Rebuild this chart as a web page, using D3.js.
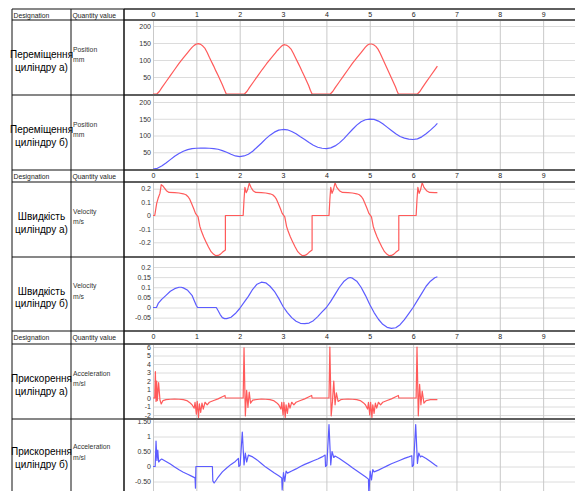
<!DOCTYPE html>
<html>
<head>
<meta charset="utf-8">
<script src="https://cdn.jsdelivr.net/npm/d3@7"></script>
<style>
  body { margin: 0; background: #fff; }
  svg { display: block; }
</style>
</head>
<body>
<div class="graph"></div>
<script>
var width = 575;
var height = 491;

// ---- data ----
var timeTicks = [0, 1, 2, 3, 4, 5, 6, 7, 8, 9];

var posTicks = [200, 150, 100, 50];
var posLabels = ["200", "150", "100", "50"];
var velATicks = [0.2, 0.1, 0, -0.1, -0.2];
var velALabels = ["0.2", "0.1", "0", "-0.1", "-0.2"];
var velBTicks = [0.2, 0.15, 0.1, 0.05, 0, -0.05];
var velBLabels = ["0.2", "0.15", "0.1", "0.05", "0", "-0.05"];
var accATicks = [6, 5, 4, 3, 2, 1, 0, -1, -2];
var accALabels = ["6", "5", "4", "3", "2", "1", "0", "-1", "-2"];
var accBTicks = [1.5, 1, 0.5, 0, -0.5];
var accBLabels = ["1.50", "1", "0.50", "0", "-0.50"];

var designations = [
  ["Переміщення", "циліндру а)"],
  ["Переміщення", "циліндру б)"],
  ["Швидкість", "циліндру а)"],
  ["Швидкість", "циліндру б)"],
  ["Прискорення", "циліндру а)"],
  ["Прискорення", "циліндру б)"]
];
var quantities = [
  ["Position", "mm"], ["Position", "mm"],
  ["Velocity", "m/s"], ["Velocity", "m/s"],
  ["Acceleration", "m/sl"], ["Acceleration", "m/sl"]
];

// [time s, value]
var positionA = [
  [0,0],[0.09,0],[0.15,8],[0.2,18],[0.3,36],[0.4,54],[0.5,72],[0.6,90],[0.7,106],[0.8,122],[0.85,130],[0.9,137],[0.95,143],[1.0,147],[1.05,148],[1.1,146],[1.15,141],[1.2,134],[1.25,122],[1.3,108],[1.35,95],[1.4,82],[1.45,68],[1.5,55],[1.55,41],[1.6,27],[1.65,12],[1.69,0],
  [2.11,0],[2.17,8],[2.22,18],[2.32,36],[2.42,54],[2.52,72],[2.62,89],[2.72,105],[2.82,120],[2.87,128],[2.92,135],[2.97,141],[3.0,144],[3.04,145],[3.09,143],[3.14,138],[3.19,131],[3.24,119],[3.29,106],[3.34,93],[3.39,80],[3.44,66],[3.49,53],[3.54,39],[3.59,25],[3.63,11],[3.67,0],
  [4.09,0],[4.15,8],[4.2,18],[4.3,36],[4.4,54],[4.5,72],[4.6,90],[4.7,106],[4.8,122],[4.85,130],[4.9,138],[4.95,144],[5.0,147],[5.04,147],[5.09,145],[5.14,140],[5.19,132],[5.24,120],[5.29,106],[5.34,92],[5.39,78],[5.44,64],[5.49,50],[5.54,36],[5.59,22],[5.63,9],[5.66,0],
  [6.1,0],[6.16,8],[6.21,18],[6.3,35],[6.4,53],[6.5,71],[6.56,82]
];

var positionB = [
  [0,0],[0.1,2],[0.2,9],[0.3,18],[0.4,28],[0.5,38],[0.6,46],[0.7,53],[0.8,58],[0.9,61],[1.0,62],[1.1,62.5],[1.2,62.5],[1.3,62],[1.4,61],[1.5,59],[1.6,55],[1.7,50],[1.8,44],[1.9,39],[2.0,37],
  [2.1,39],[2.2,44],[2.3,53],[2.4,65],[2.5,77],[2.6,90],[2.7,101],[2.8,110],[2.9,116],[3.0,118],[3.1,117],[3.2,112],[3.3,105],[3.4,96],[3.5,88],[3.6,79],[3.7,71],[3.8,65],[3.9,62],[4.0,61],
  [4.1,63],[4.2,69],[4.3,78],[4.4,90],[4.5,104],[4.6,118],[4.7,131],[4.8,141],[4.9,147],[5.0,149],[5.1,148],[5.2,143],[5.3,135],[5.4,125],[5.5,115],[5.6,105],[5.7,97],[5.8,92],[5.9,89],[6.0,88],
  [6.1,90],[6.2,96],[6.3,105],[6.4,116],[6.5,128],[6.56,136]
];

var velocityA = [
  [0,0],[0.04,0],[0.085,0.09],[0.12,0.13],[0.16,0.165],[0.19,0.23],[0.23,0.22],[0.31,0.185],[0.37,0.172],[0.5,0.17],[0.6,0.168],[0.7,0.162],[0.76,0.155],[0.81,0.14],[0.85,0.12],[0.89,0.09],[0.94,0.05],[0.98,0.016],[1.04,-0.01],[1.08,-0.08],[1.12,-0.12],[1.17,-0.16],[1.22,-0.195],[1.28,-0.235],[1.34,-0.27],[1.4,-0.29],[1.45,-0.3],[1.5,-0.298],[1.55,-0.29],[1.6,-0.275],[1.67,-0.258],[1.67,0],[2.08,0],
  [2.1,0.12],[2.12,0.21],[2.15,0.17],[2.18,0.19],[2.22,0.24],[2.26,0.21],[2.31,0.185],[2.37,0.172],[2.5,0.17],[2.6,0.168],[2.7,0.162],[2.76,0.155],[2.81,0.14],[2.85,0.12],[2.89,0.09],[2.94,0.05],[2.98,0.016],[3.04,-0.01],[3.08,-0.08],[3.12,-0.12],[3.17,-0.16],[3.22,-0.195],[3.28,-0.235],[3.34,-0.27],[3.4,-0.29],[3.45,-0.3],[3.5,-0.298],[3.55,-0.29],[3.6,-0.275],[3.67,-0.258],[3.67,0],[4.06,0],
  [4.08,0.12],[4.1,0.21],[4.13,0.165],[4.16,0.19],[4.2,0.245],[4.24,0.21],[4.3,0.185],[4.37,0.172],[4.5,0.17],[4.6,0.168],[4.7,0.162],[4.76,0.155],[4.81,0.14],[4.85,0.12],[4.89,0.09],[4.94,0.05],[4.98,0.016],[5.04,-0.01],[5.08,-0.08],[5.12,-0.12],[5.17,-0.16],[5.22,-0.195],[5.28,-0.235],[5.34,-0.27],[5.4,-0.29],[5.45,-0.3],[5.5,-0.298],[5.55,-0.29],[5.6,-0.275],[5.67,-0.258],[5.67,0],[6.07,0],
  [6.09,0.12],[6.11,0.21],[6.14,0.165],[6.17,0.19],[6.21,0.245],[6.25,0.21],[6.31,0.185],[6.38,0.172],[6.5,0.17],[6.56,0.17]
];

var velocityB = [
  [0,0],[0.08,0],[0.12,0.02],[0.16,0.03],[0.2,0.04],[0.3,0.06],[0.4,0.08],[0.5,0.093],[0.6,0.1],[0.65,0.1],[0.7,0.097],[0.8,0.085],[0.9,0.06],[0.95,0.035],[1.0,0.01],[1.03,0],[1.46,0],[1.5,-0.015],[1.55,-0.035],[1.6,-0.05],[1.65,-0.055],[1.7,-0.055],[1.8,-0.048],[1.9,-0.03],[2.0,-0.005],
  [2.1,0.025],[2.2,0.055],[2.3,0.09],[2.4,0.115],[2.5,0.125],[2.6,0.122],[2.7,0.105],[2.8,0.08],[2.9,0.045],[3.0,0.005],[3.1,-0.025],[3.2,-0.05],[3.3,-0.068],[3.4,-0.078],[3.5,-0.08],[3.6,-0.077],[3.7,-0.065],[3.8,-0.045],[3.9,-0.022],[4.0,0.0],
  [4.1,0.03],[4.2,0.065],[4.3,0.1],[4.4,0.128],[4.5,0.145],[4.55,0.148],[4.6,0.145],[4.7,0.13],[4.8,0.1],[4.9,0.06],[5.0,0.015],[5.1,-0.025],[5.2,-0.058],[5.3,-0.083],[5.4,-0.098],[5.5,-0.103],[5.6,-0.1],[5.7,-0.085],[5.8,-0.06],[5.9,-0.03],[6.0,0.0],
  [6.1,0.035],[6.2,0.07],[6.3,0.105],[6.4,0.13],[6.5,0.147],[6.56,0.152]
];

var accelA = [
  [0,0],[0.04,0],[0.055,3.1],[0.07,-0.4],[0.085,2.0],[0.1,-0.3],[0.13,1.8],[0.16,-0.2],[0.19,-0.7],[0.23,-0.3],[0.3,-0.2],[0.4,-0.15],[0.5,-0.12],[0.6,-0.15],[0.7,-0.2],[0.78,-0.3],[0.85,-0.55],[0.9,-0.8],[0.95,-1.2],[0.97,-0.5],[1.0,-1.9],[1.02,-0.4],[1.05,-2.3],[1.07,-0.7],[1.1,-1.7],[1.13,-0.6],[1.16,-1.3],[1.2,-0.5],[1.25,-0.8],[1.3,-0.5],[1.4,-0.3],[1.5,-0.1],[1.6,0.15],[1.66,0.3],[1.67,0],[2.08,0],
  [2.1,5.9],[2.13,-2.1],[2.16,0.9],[2.19,-1.1],[2.22,0.7],[2.25,-0.6],[2.3,-0.25],[2.4,-0.18],[2.5,-0.12],[2.6,-0.15],[2.7,-0.2],[2.78,-0.3],[2.85,-0.55],[2.9,-0.8],[2.95,-1.3],[2.97,-0.5],[3.0,-2.0],[3.02,-0.5],[3.05,-2.3],[3.07,-0.8],[3.1,-1.8],[3.13,-0.6],[3.16,-1.2],[3.2,-0.5],[3.25,-0.8],[3.3,-0.5],[3.4,-0.3],[3.5,-0.1],[3.6,0.15],[3.66,0.3],[3.67,0],[4.06,0],
  [4.08,6.0],[4.11,-2.1],[4.14,-0.4],[4.17,2.0],[4.2,-0.8],[4.23,0.6],[4.27,-0.4],[4.33,-0.2],[4.4,-0.15],[4.5,-0.12],[4.6,-0.15],[4.7,-0.2],[4.78,-0.3],[4.85,-0.55],[4.9,-0.8],[4.95,-1.3],[4.97,-0.5],[5.0,-2.0],[5.02,-0.5],[5.05,-2.3],[5.07,-0.8],[5.1,-1.8],[5.13,-0.6],[5.16,-1.2],[5.2,-0.5],[5.25,-0.8],[5.3,-0.5],[5.4,-0.3],[5.5,-0.1],[5.6,0.15],[5.66,0.3],[5.67,0],[6.07,0],
  [6.09,6.0],[6.12,-2.1],[6.15,1.6],[6.18,-0.8],[6.21,0.8],[6.25,-0.6],[6.3,-0.3],[6.4,-0.2],[6.5,-0.18],[6.56,-0.2]
];

var accelB = [
  [0,0],[0.05,0],[0.07,0.85],[0.09,0.2],[0.11,0.55],[0.13,0.15],[0.17,0.22],[0.2,0.25],[0.3,0.17],[0.4,0.08],[0.5,-0.02],[0.6,-0.11],[0.7,-0.19],[0.8,-0.26],[0.9,-0.33],[0.97,-0.38],[0.98,-0.72],[0.99,0],[1.37,0],[1.38,-0.48],[1.41,-0.55],[1.46,-0.45],[1.5,-0.36],[1.6,-0.18],[1.7,-0.05],[1.8,0.07],[1.9,0.17],[1.97,0.27],[1.98,0],
  [2.01,0.05],[2.06,1.15],[2.1,0.05],[2.13,0.45],[2.16,0.15],[2.2,0.38],[2.3,0.32],[2.4,0.22],[2.5,0.1],[2.6,-0.02],[2.7,-0.12],[2.8,-0.22],[2.9,-0.31],[2.97,-0.38],[2.98,-0.78],[3.01,-0.2],[3.04,-0.5],[3.07,-0.15],[3.1,-0.22],[3.2,-0.15],[3.3,-0.08],[3.4,0.0],[3.5,0.07],[3.6,0.13],[3.7,0.19],[3.8,0.25],[3.9,0.32],[3.97,0.38],[3.98,0],
  [4.01,0.05],[4.06,1.4],[4.1,0.05],[4.13,0.5],[4.17,0.3],[4.2,0.35],[4.3,0.27],[4.4,0.17],[4.5,0.07],[4.6,-0.04],[4.7,-0.14],[4.8,-0.24],[4.9,-0.34],[4.97,-0.42],[4.98,-0.95],[5.01,-0.15],[5.04,-0.45],[5.07,-0.1],[5.1,-0.18],[5.2,-0.12],[5.3,-0.05],[5.4,0.02],[5.5,0.09],[5.6,0.15],[5.7,0.21],[5.8,0.27],[5.9,0.32],[5.97,0.36],[5.98,0],
  [6.01,0.05],[6.06,1.4],[6.1,0.1],[6.13,0.45],[6.17,0.32],[6.2,0.35],[6.3,0.27],[6.4,0.17],[6.5,0.06],[6.56,0.0]
];

// ---- layout ----
var font = "'Liberation Sans', Arial, sans-serif";
var red = "#ff5a5a";
var blue = "#5c5cff";
var plotLeft = 153;
var col1 = 12, col2 = 71, col3 = 124;

var x = d3.scaleLinear().domain([0, 10]).range([plotLeft, 586.5]);

var sections = [
  {top: 9, bottom: 20},
  {top: 170, bottom: 182},
  {top: 331, bottom: 344}
];

var rows = [
  {top: 20,  bottom: 95,  domain: [0, 200], range: [94, 26],      ticks: posTicks,  labels: posLabels,  data: positionA, color: red},
  {top: 95,  bottom: 170, domain: [0, 200], range: [169, 102],    ticks: posTicks,  labels: posLabels,  data: positionB, color: blue},
  {top: 182, bottom: 257, domain: [0, 0.2], range: [215.5, 188.7], ticks: velATicks, labels: velALabels, data: velocityA, color: red},
  {top: 257, bottom: 331, domain: [0, 0.2], range: [307.5, 267],   ticks: velBTicks, labels: velBLabels, data: velocityB, color: blue},
  {top: 344, bottom: 419, domain: [0, 6],   range: [398, 347],     ticks: accATicks, labels: accALabels, data: accelA,    color: red},
  {top: 419, bottom: 494, domain: [0, 1.5], range: [466.5, 421.5], ticks: accBTicks, labels: accBLabels, data: accelB,    color: blue}
];

var svg = d3.select(".graph").append("svg")
  .attr("width", width)
  .attr("height", height);

var defs = svg.append("defs");

rows.forEach(function(r, i) {
  var y = d3.scaleLinear().domain(r.domain).range(r.range);
  var g = svg.append("g").attr("class", "row");

  // horizontal grid
  g.append("g")
    .attr("transform", "translate(" + plotLeft + ",0)")
    .call(d3.axisLeft(y).tickValues(r.ticks).tickSize(-(width - plotLeft)).tickFormat(""))
    .call(function(a) { a.select(".domain").remove(); })
    .selectAll("line").attr("stroke", "#dcdcdc");

  // vertical grid
  g.append("g")
    .attr("transform", "translate(0," + r.top + ")")
    .call(d3.axisBottom(x).tickValues(timeTicks).tickSize(r.bottom - r.top).tickFormat(""))
    .call(function(a) { a.select(".domain").remove(); })
    .selectAll("line").attr("stroke", "#c9c9c9");

  defs.append("clipPath").attr("id", "clip" + i)
    .append("rect")
    .attr("x", plotLeft - 1).attr("y", r.top)
    .attr("width", width - plotLeft + 1).attr("height", r.bottom - r.top);

  var line = d3.line()
    .x(function(d) { return x(d[0]); })
    .y(function(d) { return y(d[1]); });

  g.append("path")
    .datum(r.data)
    .attr("clip-path", "url(#clip" + i + ")")
    .attr("fill", "none")
    .attr("stroke", r.color)
    .attr("stroke-width", 1.2)
    .attr("stroke-linejoin", "round")
    .attr("d", line);

  // y labels
  g.append("g")
    .attr("transform", "translate(151,0)")
    .call(d3.axisLeft(y).tickValues(r.ticks).tickSize(0).tickPadding(0)
      .tickFormat(function(d, j) { return r.labels[j]; }))
    .call(function(a) { a.select(".domain").remove(); })
    .selectAll("text")
    .attr("font-family", font)
    .attr("font-size", 7)
    .attr("fill", "#333");

  // designation text
  var cy = (r.top + Math.min(r.bottom, 491)) / 2 + 3;
  if (i == 5) cy = (r.top + r.bottom) / 2 + 1;
  g.append("text")
    .attr("x", (col1 + col2) / 2)
    .attr("y", cy - 2.5)
    .attr("text-anchor", "middle")
    .attr("font-family", font)
    .attr("font-size", 10)
    .attr("fill", "#000")
    .text(designations[i][0]);
  g.append("text")
    .attr("x", (col1 + col2) / 2)
    .attr("y", cy + 10)
    .attr("text-anchor", "middle")
    .attr("font-family", font)
    .attr("font-size", 10)
    .attr("fill", "#000")
    .text(designations[i][1]);

  // quantity text
  var qy = (r.top + r.bottom) / 2;
  if (i == 5) qy = 455;
  g.append("text")
    .attr("x", col2 + 2).attr("y", qy - 6)
    .attr("font-family", font).attr("font-size", 6.8).attr("fill", "#333")
    .text(quantities[i][0]);
  g.append("text")
    .attr("x", col2 + 2).attr("y", qy + 4.5)
    .attr("font-family", font).attr("font-size", 6.8).attr("fill", "#333")
    .text(quantities[i][1]);
});

// header rows
sections.forEach(function(s) {
  svg.append("rect")
    .attr("x", col1).attr("y", s.top)
    .attr("width", width - col1).attr("height", s.bottom - s.top)
    .attr("fill", "#fff");

  var hx = svg.append("g")
    .attr("transform", "translate(0," + s.top + ")")
    .call(d3.axisBottom(x).tickValues(timeTicks).tickSize(0).tickPadding(3.5));
  hx.select(".domain").remove();
  hx.selectAll("text")
    .attr("font-family", font)
    .attr("font-size", 7)
    .attr("fill", "#222");

  svg.append("text")
    .attr("x", col1 + 1.5).attr("y", s.top + 9)
    .attr("font-family", font).attr("font-size", 6.8).attr("fill", "#222")
    .text("Designation");
  svg.append("text")
    .attr("x", col2 + 1.5).attr("y", s.top + 9)
    .attr("font-family", font).attr("font-size", 6.8).attr("fill", "#222")
    .text("Quantity value");
});

// table borders
var hLines = [9, 20, 95, 170, 182, 257, 331, 344, 419];
hLines.forEach(function(yy) {
  svg.append("line")
    .attr("x1", col3).attr("x2", width)
    .attr("y1", yy).attr("y2", yy)
    .attr("stroke", "#5e5e5e").attr("stroke-width", 2);
  svg.append("line")
    .attr("x1", col1).attr("x2", col3)
    .attr("y1", yy).attr("y2", yy)
    .attr("stroke", "#111").attr("stroke-width", 1.2);
});

[col1, col2, col3].forEach(function(xx) {
  svg.append("line")
    .attr("x1", xx).attr("x2", xx)
    .attr("y1", 9).attr("y2", height)
    .attr("stroke", "#111").attr("stroke-width", xx == col3 ? 1.5 : 1);
});
</script>
</body>
</html>
